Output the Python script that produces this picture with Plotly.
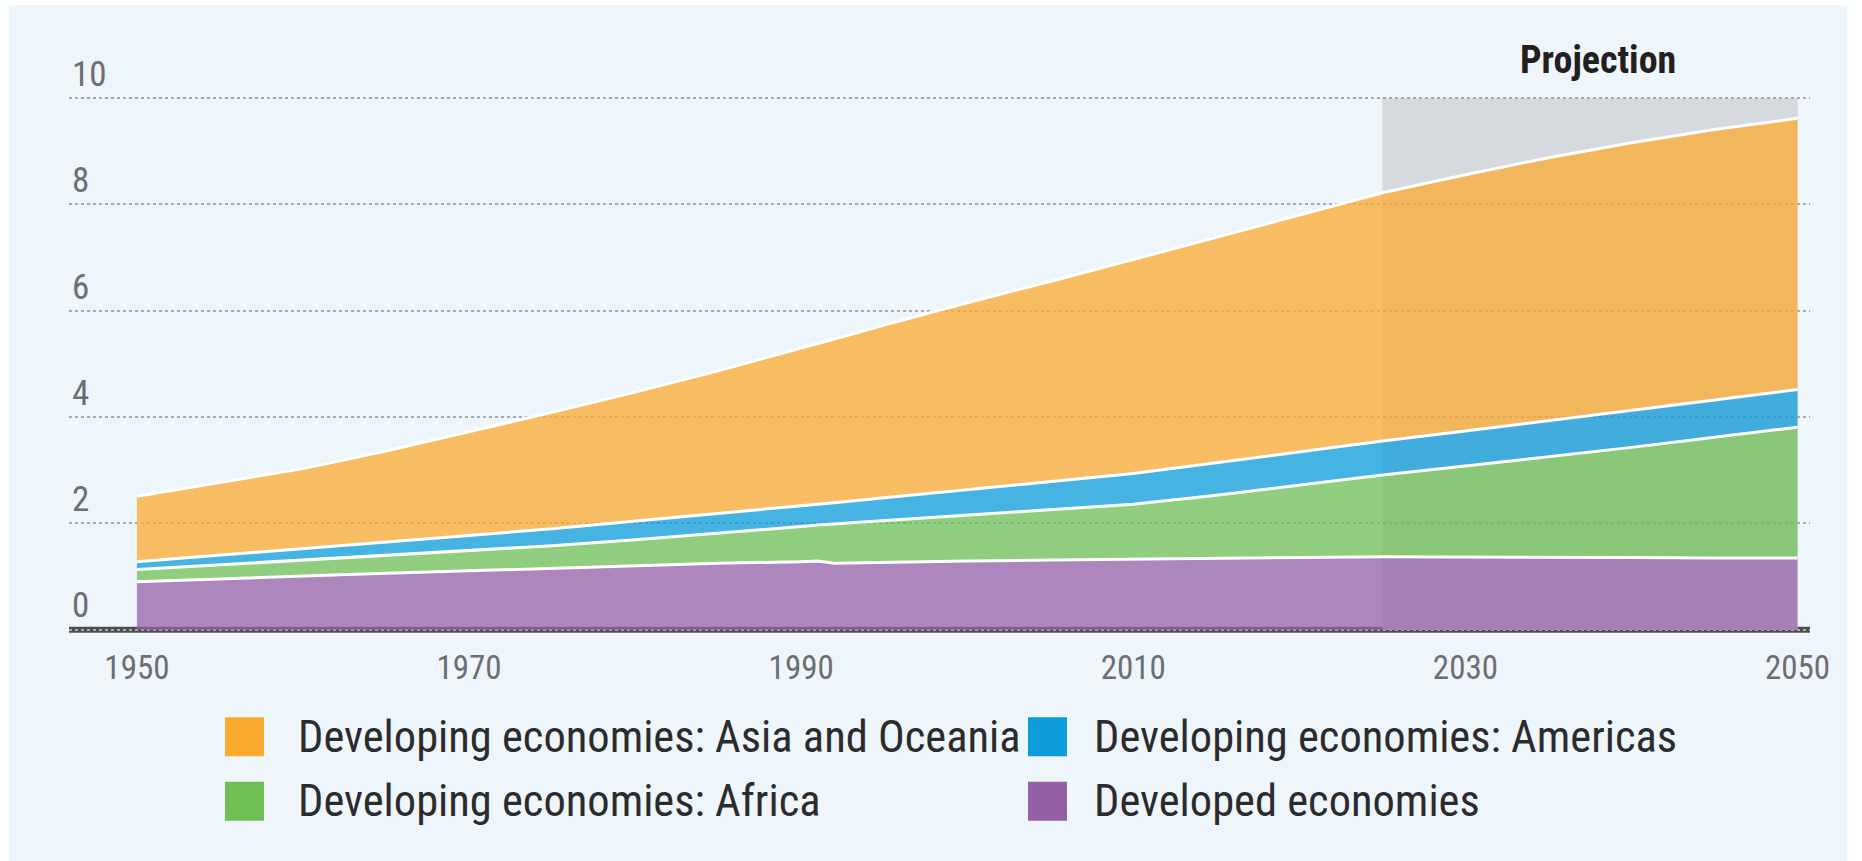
import plotly.graph_objects as go

# Data (billions of people)
years = [1950, 1955, 1960, 1965, 1970, 1975, 1980, 1985, 1990, 1991, 1992, 1995,
         2000, 2005, 2010, 2015, 2020, 2025, 2030, 2035, 2040, 2045, 2050]
developed = [0.90, 0.96, 1.01, 1.06, 1.11, 1.16, 1.21, 1.25, 1.28, 1.29, 1.25, 1.27,
             1.29, 1.31, 1.33, 1.35, 1.36, 1.37, 1.37, 1.37, 1.36, 1.35, 1.35]
africa = [0.23, 0.26, 0.30, 0.34, 0.38, 0.42, 0.48, 0.56, 0.66, 0.68, 0.74, 0.78,
          0.87, 0.95, 1.03, 1.18, 1.36, 1.54, 1.71, 1.88, 2.07, 2.27, 2.46]
americas = [0.15, 0.18, 0.21, 0.24, 0.28, 0.32, 0.35, 0.37, 0.39, 0.39, 0.40, 0.43,
            0.47, 0.52, 0.58, 0.61, 0.63, 0.64, 0.66, 0.68, 0.69, 0.70, 0.71]
asia = [1.23, 1.37, 1.51, 1.72, 1.95, 2.19, 2.43, 2.69, 2.97, 3.03, 3.08, 3.25,
        3.52, 3.77, 4.02, 4.24, 4.45, 4.67, 4.82, 4.95, 5.04, 5.09, 5.10]

series_names = ["Developed economies", "Developing economies: Africa",
                "Developing economies: Americas", "Developing economies: Asia and Oceania"]
series_colors = ["#9560A8", "#70BF55", "#0E9DDB", "#FBAA30"]

x_ticks = [1950, 1970, 1990, 2010, 2030, 2050]
y_ticks = [0, 2, 4, 6, 8, 10]
projection_start, projection_end = 2025, 2050

FONT = "Roboto Condensed, DejaVu Sans Condensed, Liberation Sans Narrow, Arial Narrow, Liberation Sans, sans-serif"
W, H = 1862, 861
ML, MR, MT, MB = 69, 52, 45, 226


def rgba(hex_color, a):
    h = hex_color.lstrip("#")
    return "rgba(%d,%d,%d,%.2f)" % (int(h[0:2], 16), int(h[2:4], 16), int(h[4:6], 16), a)


def px_x(px):
    return (px - ML) / (W - ML - MR)


def px_y(py):
    return (H - MB - py) / (H - MT - MB)


fig = go.Figure()

for name, vals, col in zip(series_names, [developed, africa, americas, asia], series_colors):
    fig.add_trace(go.Scatter(
        x=years, y=vals, name=name, mode="lines", stackgroup="one",
        fillcolor=rgba(col, 0.75),
        line=dict(color="white", width=3),
        showlegend=False, hoverinfo="skip",
    ))

shapes = [
    # light blue panel
    dict(type="rect", xref="paper", yref="paper", x0=px_x(9), x1=px_x(1847),
         y0=px_y(861), y1=px_y(5), fillcolor="#EEF5FB", line=dict(width=0), layer="below"),
    # projection band
    dict(type="rect", xref="x", yref="y", x0=projection_start, x1=projection_end,
         y0=0, y1=10, fillcolor="#D6D9DD", line=dict(width=0), layer="below"),
    # base axis line
    dict(type="line", xref="paper", yref="y", x0=0, x1=1, y0=0, y1=0,
         line=dict(color="#4D4D4F", width=6), layer="between"),
]

annotations = [
    dict(text="<b>Projection</b>", x=2038, y=10.72,
         xref="x", yref="y", showarrow=False, xanchor="center", yanchor="middle",
         font=dict(family=FONT, size=38, color="#231F20")),
]

# custom legend: 2 x 2 grid
legend_order = [3, 2, 1, 0]
rows_y = [736.7, 801.3]
swatch_x = [225, 1028]
text_x = [296, 1092]
for k, idx in enumerate(legend_order):
    r, c = k // 2, k % 2
    cy = rows_y[r]
    shapes.append(dict(type="rect", xref="paper", yref="paper",
                       x0=px_x(swatch_x[c]), x1=px_x(swatch_x[c] + 39),
                       y0=px_y(cy + 19.5), y1=px_y(cy - 19.5),
                       fillcolor=series_colors[idx], line=dict(width=0), layer="above"))
    annotations.append(dict(text=series_names[idx], xref="paper", yref="paper",
                            x=px_x(text_x[c]), y=px_y(cy), xanchor="left", yanchor="middle",
                            showarrow=False,
                            font=dict(family=FONT, size=44.5, color="#2B2B2D")))

fig.update_layout(
    width=W, height=H,
    margin=dict(l=ML, r=MR, t=MT, b=MB, pad=0),
    paper_bgcolor="white",
    plot_bgcolor="rgba(0,0,0,0)",
    shapes=shapes,
    annotations=annotations,
    hovermode=False,
    showlegend=False,
    font=dict(family=FONT),
)

fig.update_xaxes(
    range=[1945.91, 2050.75], tickvals=x_ticks, showgrid=False, zeroline=False,
    showline=False, ticks="", automargin=False, ticklabelstandoff=10,
    tickfont=dict(family=FONT, size=33, color="#6D6E71"),
)
fig.update_yaxes(
    range=[-0.1, 11.0], tickvals=y_ticks, showgrid=True, gridcolor="#A7A9AC",
    gridwidth=2, griddash="dot", zeroline=False, showline=False, ticks="",
    ticklabelposition="inside top", automargin=False,
    tickfont=dict(family=FONT, size=35, color="#6D6E71"),
)

# drop the browser's default body margin so the figure sits at the page corner
fig.write_html("out.html", config={"displayModeBar": False},
               post_script="document.body.style.margin='0px';")
